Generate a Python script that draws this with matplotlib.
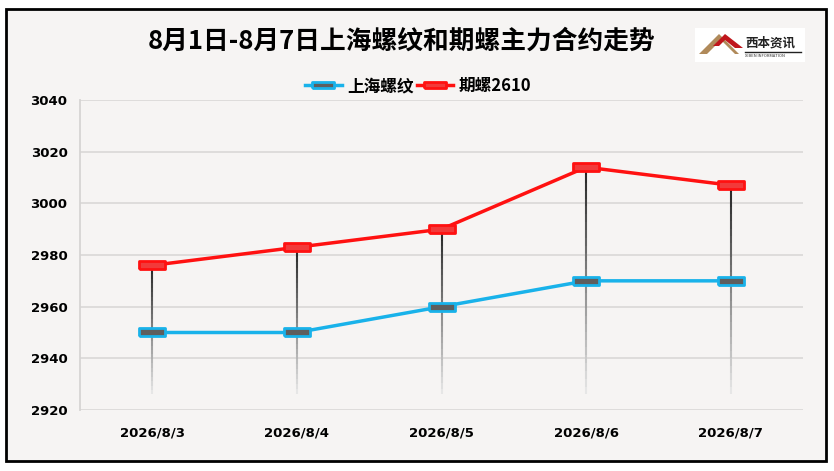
import matplotlib.pyplot as plt
import matplotlib.patches as mpatches
from matplotlib.collections import LineCollection
from matplotlib.markers import MarkerStyle
import numpy as np

plt.rcParams['font.family'] = ['Noto Sans CJK SC', 'DejaVu Sans']

dates = ['2026/8/3', '2026/8/4', '2026/8/5', '2026/8/6', '2026/8/7']
spot = [2950, 2950, 2960, 2970, 2970]
futures = [2976, 2983, 2990, 3014, 3007]
yticks = [2920, 2940, 2960, 2980, 3000, 3020, 3040]

bg = '#f6f4f3'
blue = '#19b2ea'
red = '#ff1111'

W, H = 834, 471
fig = plt.figure(figsize=(W / 100, H / 100), dpi=100)
fig.patch.set_facecolor('white')

# outer frame
frame = mpatches.Rectangle((6 / W, (H - 461) / H), 820 / W, 452 / H,
                           transform=fig.transFigure, facecolor=bg,
                           edgecolor='black', lw=2, zorder=-10)
fig.patches.append(frame)

ax = fig.add_axes([80 / W, (H - 410) / H, 723 / W, 310 / H])
ax.set_facecolor('none')
x = np.arange(len(dates))

ax.set_xlim(-0.5, len(dates) - 0.5)
ax.set_ylim(2920, 3040)
ax.set_yticks(yticks)
ax.set_yticklabels([str(v) for v in yticks], fontsize=9.5, fontweight='bold',
                   family='DejaVu Sans')
ax.set_xticks(x)
ax.set_xticklabels(dates, fontsize=9.5, fontweight='bold', family='DejaVu Sans')
ax.tick_params(axis='y', length=0, pad=9)
ax.tick_params(axis='x', length=0, pad=12)
ax.grid(axis='y', color='#dcdad9', lw=1.3)
ax.set_axisbelow(True)
for s in ['top', 'right', 'bottom']:
    ax.spines[s].set_visible(False)
ax.spines['left'].set_color('#d6d4d3')
ax.spines['left'].set_linewidth(1.3)

# drop lines with fading gradient
bottom_val = 2926
for xi, top in zip(x, futures):
    ys = np.linspace(top, bottom_val, 30)
    segs = [[(xi, ys[i]), (xi, ys[i + 1])] for i in range(len(ys) - 1)]
    shades = np.linspace(0.15, 0.9, len(segs))
    cols = [(s, s, s) for s in shades]
    ax.add_collection(LineCollection(segs, colors=cols, lw=1.5, zorder=2))

rect = MarkerStyle([(-1, -0.3), (1, -0.3), (1, 0.3), (-1, 0.3), (-1, -0.3)],
                   joinstyle='miter')
ax.plot(x, spot, color=blue, lw=2.5, marker=rect, markersize=19,
        markerfacecolor='#5e5e5e', markeredgecolor=blue, markeredgewidth=2,
        zorder=3, label='上海螺纹')
ax.plot(x, futures, color=red, lw=2.5, marker=rect, markersize=19,
        markerfacecolor='#f23a3a', markeredgecolor=red, markeredgewidth=2,
        zorder=3, label='期螺2610')

fig.text(402 / W, 1 - 41 / H, '8月1日-8月7日上海螺纹和期螺主力合约走势',
         ha='center', va='center', fontsize=18.5, fontweight='bold')

leg = ax.legend(loc='center', bbox_to_anchor=(418 / W, 1 - 86 / H),
                bbox_transform=fig.transFigure, ncol=2, frameon=False,
                prop={'size': 12, 'weight': 'bold'}, handlelength=2.2,
                columnspacing=0.2, handletextpad=0.3, markerscale=0.8)

# logo
logo = fig.add_axes([695 / W, (H - 62) / H, 110 / W, 34 / H])
logo.set_xlim(0, 110)
logo.set_ylim(0, 34)
logo.axis('off')
logo.add_patch(mpatches.Rectangle((0, 0), 110, 34, facecolor='white', edgecolor='none'))
logo.add_patch(mpatches.Polygon([(4, 8), (24, 28), (44, 8)], closed=True,
                                facecolor='#b08a5a', edgecolor='none'))
logo.add_patch(mpatches.Polygon([(12, 8), (26, 22), (40, 8)], closed=True,
                                facecolor='white', edgecolor='none'))
logo.add_patch(mpatches.Polygon([(18, 16), (30, 28), (48, 14), (40, 14), (30, 22), (24, 16)],
                                closed=True, facecolor='#c0161c', edgecolor='none'))
logo.text(50, 19, '西本资讯', fontsize=9, fontweight='bold', color='#222222', va='center')
logo.plot([50, 106], [10, 10], color='#222222', lw=1)
logo.text(50, 6, 'XIBEN INFORMATION', fontsize=3, color='#333333', va='center')

fig.savefig('out.png', dpi=100, facecolor='white')
